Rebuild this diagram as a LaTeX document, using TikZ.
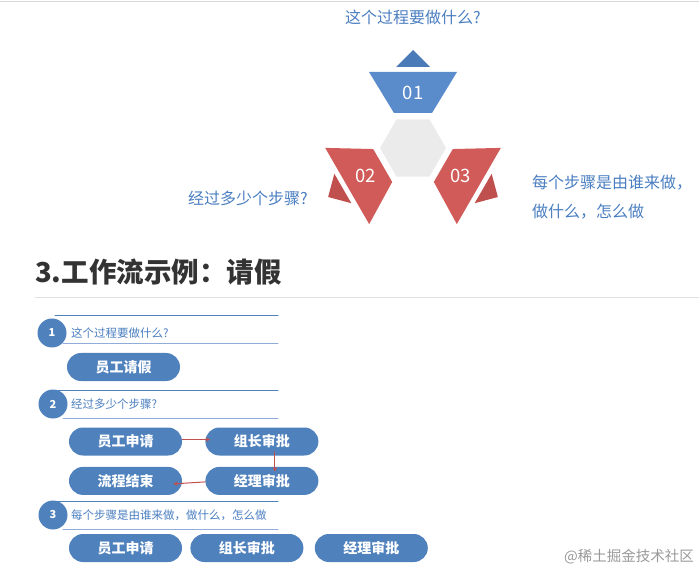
\documentclass[tikz,border=0pt]{standalone}
\usepackage{fontspec}
\newfontfamily\cjk{Noto Sans CJK SC}
\usetikzlibrary{positioning}
\definecolor{pillblue}{HTML}{4F81BD}
\definecolor{ruleblue}{HTML}{8FADD8}
\definecolor{askblue}{HTML}{4A7EC0}
\definecolor{capblue}{HTML}{5A8BCB}
\definecolor{tipblue}{HTML}{4A7AB8}
\definecolor{capred}{HTML}{D05B58}
\definecolor{tipred}{HTML}{C0504D}
\definecolor{arrowred}{HTML}{C0504D}
\definecolor{hexgray}{HTML}{EBEBEB}
\definecolor{titlegray}{HTML}{333333}

\begin{document}
\begin{tikzpicture}[x=1pt, y=-1pt, line cap=round, line join=round, >=stealth, font=\cjk]
	\tikzset{pill/.style={rounded corners=14pt, minimum width=113pt, minimum height=28pt, inner sep=0pt, fill=pillblue, text=white, font=\cjk\bfseries\fontsize{14}{16}\selectfont},
		stepdot/.style={circle, minimum size=29pt, inner sep=0pt, fill=pillblue, text=white, font=\cjk\bfseries\fontsize{11}{13}\selectfont},
		steptext/.style={anchor=west, inner sep=0pt, text=askblue, font=\cjk\fontsize{11.5}{13}\selectfont},
		steprule/.style={draw=pillblue, line width=1pt},
		asktext/.style={inner sep=0pt, text=askblue, font=\cjk\fontsize{16}{29}\selectfont},
		numtext/.style={inner sep=0pt, text=white, font=\cjk\fontsize{18.5}{20}\selectfont},
		redarrow/.style={->, draw=arrowred, line width=1pt}}
	\useasboundingbox (0,0) rectangle (699,569);
	\draw[black!15] (0,1) -- (699,1);
	% hexagon and the three pieces round it
	\coordinate (hub) at (413,148);
	\filldraw[fill=hexgray, draw=white, line width=1.5pt] (hub) +(0:34) -- +(60:34) -- +(120:34) -- +(180:34) -- +(240:34) -- +(300:34) -- cycle;
	\fill[capblue] (369,72) -- (457,72) -- (432,113) -- (394,113) -- cycle;
	\fill[tipblue] (413,50) -- (430,67) -- (396,67) -- cycle;
	\node[numtext] (n1) at (413,93) {01};
	\begin{scope}[rotate around={120:(hub)}]
		\fill[capred] (369,72) -- (457,72) -- (432,113) -- (394,113) -- cycle;
		\fill[tipred] (413,50) -- (430,67) -- (396,67) -- cycle;
		\node[numtext] (n2) at (413,93) {02};
	\end{scope}
	\begin{scope}[rotate around={-120:(hub)}]
		\fill[capred] (369,72) -- (457,72) -- (432,113) -- (394,113) -- cycle;
		\fill[tipred] (413,50) -- (430,67) -- (396,67) -- cycle;
		\node[numtext] (n3) at (413,93) {03};
	\end{scope}
	\node[asktext] (q1) at (413,17) {这个过程要做什么?};
	\node[asktext] (q2) at (248,198) {经过多少个步骤?};
	\node[asktext, anchor=west, align=left] (q3) at (532,197) {每个步骤是由谁来做，\\做什么，怎么做};
	% example: leave request
	\node[anchor=west, inner sep=0pt, text=titlegray, font=\cjk\bfseries\fontsize{27.5}{30}\selectfont] (title) at (35,272) {3.工作流示例：请假};
	\draw[black!12] (35,297) -- (699,297);
	\draw[steprule] (55,316) -- (278,316);
	\draw[steprule, draw=ruleblue] (63,344) -- (278,344);
	\node[stepdot] (s1) at (52,333) {1};
	\node[steptext] (t1) at (71,333) {这个过程要做什么?};
	\node[pill] (leave) at (123.5,367) {员工请假};
	\draw[steprule] (55,390) -- (278,390);
	\draw[steprule, draw=ruleblue] (63,418) -- (278,418);
	\node[stepdot] (s2) at (53,404) {2};
	\node[steptext] (t2) at (71,404) {经过多少个步骤?};
	\node[pill] (apply) at (125.5,441.5) {员工申请};
	\node[pill, right=23pt of apply] (lead) {组长审批};
	\node[pill, below=11pt of lead] (manager) {经理审批};
	\node[pill, below=11pt of apply] (finish) {流程结束};
	\draw[redarrow] ([yshift=2pt]apply.east) -- ([xshift=5pt,yshift=2pt]lead.west);
	\draw[redarrow] ([xshift=13pt,yshift=4pt]lead.south) -- ([xshift=13pt,yshift=-5pt]manager.north);
	\draw[redarrow] ([yshift=-1pt]manager.west) -- ([xshift=-9pt,yshift=-3pt]finish.east);
	\draw[steprule] (55,501) -- (278,501);
	\draw[steprule, draw=ruleblue] (63,529) -- (278,529);
	\node[stepdot] (s3) at (53,515) {3};
	\node[steptext] (t3) at (71,515) {每个步骤是由谁来做，做什么，怎么做};
	\node[pill] (apply3) at (125.5,548) {员工申请};
	\node[pill, right=8pt of apply3] (lead3) {组长审批};
	\node[pill, right=11pt of lead3] (manager3) {经理审批};
	\node[anchor=east, inner sep=0pt, text=black!40, font=\cjk\fontsize{14.5}{16}\selectfont] (mark) at (694,557) {@稀土掘金技术社区};
\end{tikzpicture}
\end{document}
